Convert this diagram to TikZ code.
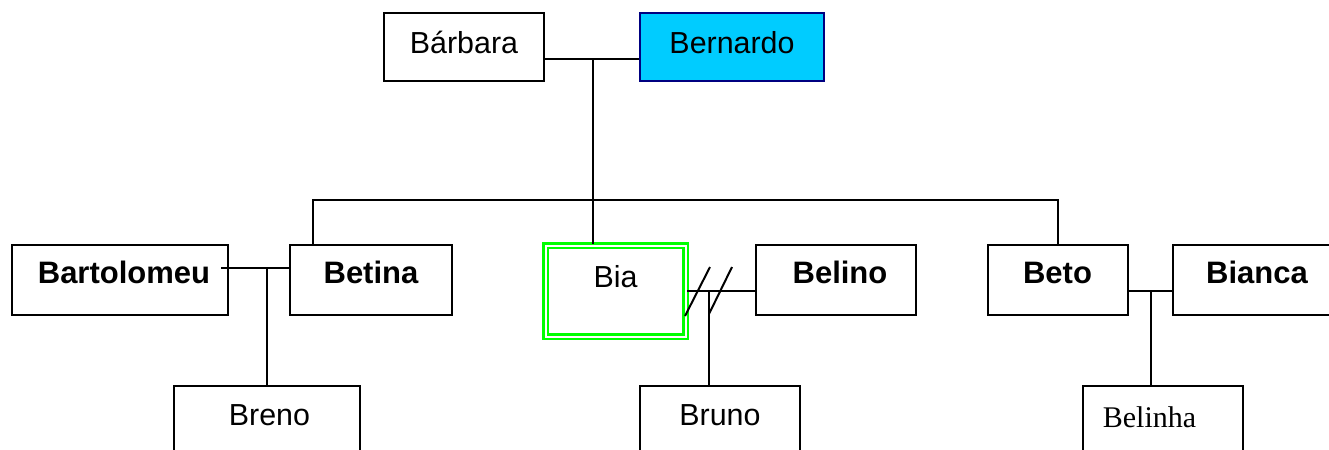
\documentclass[tikz,border=0pt]{standalone}
\usepackage{fontspec}
\setmainfont{Liberation Sans}
\newfontfamily\timesname{Liberation Serif}
\usetikzlibrary{positioning, calc}
\definecolor{bernardoblue}{RGB}{0,204,255}
\definecolor{navyline}{RGB}{0,0,128}
\definecolor{biagreen}{RGB}{0,255,0}
\tikzset{
    person/.style = {draw, rectangle, line width=1pt, inner sep=0pt, text height=19pt, text depth=16pt, font=\fontsize{15.2}{18}\selectfont},
    parent/.style = {person, text height=20pt, text depth=14pt},
    child/.style = {person, text height=19.5pt, text depth=15.5pt},
    boldname/.style = {font=\fontsize{15.5}{18}\selectfont\bfseries},
    link/.style = {line width=1pt}
}

\begin{document}
\begin{tikzpicture}[x=0.5pt, y=-0.5pt]
    \useasboundingbox (0,0) rectangle (1329,450);
    \clip (0,0) rectangle (1329,450);
    % Pais
    \node [parent, minimum width=80pt] (barbara) at (464,47) {Bárbara};
    \node [parent, minimum width=92pt, fill=bernardoblue, draw=navyline] (bernardo) at (732,47) {Bernardo};
    % Filhos e cônjuges
    \node [person, boldname, minimum width=108pt] (bartolomeu) at (120,280) {\hspace{4pt}Bartolomeu};
    \node [person, boldname, minimum width=81pt] (betina) at (371,280) {Betina};
    \node [person, draw=biagreen, double=white, double distance=1pt, line width=1.4pt, minimum width=70pt,
           text height=20.75pt, text depth=24.75pt] (bia) at (615.5,291) {Bia};
    \node [person, boldname, minimum width=80pt] (belino) at (836,280) {\hspace{4pt}Belino};
    \node [person, boldname, minimum width=90pt] (bianca) at (1263,280) {Bianca\kern6pt};
    \node [person, boldname, minimum width=70pt] (beto) at (1057.5,280) {Beto};
    % Netos
    \node [child, minimum width=93pt] (breno) at (266.5,421) {\hspace{3pt}Breno};
    \node [child, minimum width=80pt] (bruno) at (720,421) {Bruno};
    \node [child, minimum width=80pt, text height=20.5pt, text depth=14.5pt,
           font=\timesname\fontsize{15}{18}\selectfont] (belinha) at (1162.5,421) {Belinha\kern13pt};

    % Ligações
    \coordinate (m1) at (593,59);
    \coordinate (bar) at (313,200);
    \coordinate (m2) at (267,268);
    \coordinate (m3) at (709,291);
    \coordinate (m4) at (1151,291);
    \coordinate (bartend) at ([xshift=-4pt]bartolomeu.east);

    \draw [link] (barbara.east |- m1) -- (bernardo.west |- m1);
    \draw [link] (m1) -- (m1 |- bia.north);
    \draw [link] (bar |- betina.north) -- (bar) -- (bar -| beto.north) -- (beto.north);
    \draw [link] (bartend |- m2) -- (betina.west |- m2);
    \draw [link] (m2) -- (m2 |- breno.north);
    \draw [link] (bia.east) -- (belino.west |- m3);
    \draw [link] (m3) -- (m3 |- bruno.north);
    \draw [link, shift={(m3)}] (-24,25) -- (1,-24) (0,23) -- (23,-24); % separados
    \draw [link] (beto.east |- m4) -- (bianca.west |- m4);
    \draw [link] (m4) -- (m4 |- belinha.north);
\end{tikzpicture}
\end{document}
